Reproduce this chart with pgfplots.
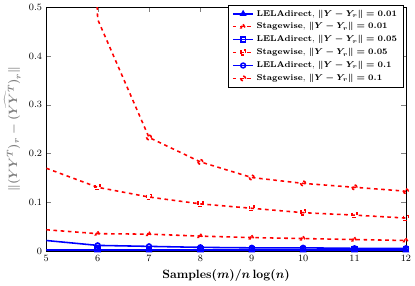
\documentclass[border=0pt]{standalone}
\usepackage{amsmath}
\usepackage{pgfplots}
\pgfplotsset{compat=1.18}
\begin{document}
\begin{tikzpicture}
\begin{axis}[
  scale only axis, width=299pt, height=203pt,
  xmin=5, xmax=12, ymin=0, ymax=0.5,
  xtick={5,6,7,8,9,10,11,12},
  ytick={0,0.1,0.2,0.3,0.4,0.5},
  tick align=inside,
  xticklabel style={font=\sffamily\bfseries\footnotesize},
  yticklabel style={font=\sffamily\bfseries\footnotesize},
  xlabel={\textbf{Samples}$\boldsymbol{(m)/n\log(n)}$},
  ylabel={\color{gray}$\boldsymbol{\Vert (YY^T)_r-\widehat{(YY^T)}_r\Vert}$},
  legend style={at={(0.993,1.01)}, anchor=north east, font=\scriptsize},
  legend cell align=left,
]
\addplot[color=blue, line width=1.3pt, mark=triangle*, mark phase=2] coordinates {(5,0.002) (6,0.002) (7,0.002) (8,0.002) (9,0.002) (10,0.002) (11,0.002) (12,0.002)};
\addlegendentry{\textbf{LELAdirect}, $\boldsymbol{\Vert Y-Y_r\Vert=0.01}$}
\addplot[color=red, line width=1.3pt, dashed, mark=triangle, mark phase=2] coordinates {(5,0.044) (6,0.036) (7,0.035) (8,0.031) (9,0.028) (10,0.026) (11,0.024) (12,0.022)};
\addlegendentry{\textbf{Stagewise}, $\boldsymbol{\Vert Y-Y_r\Vert=0.01}$}
\addplot[color=blue, line width=1.3pt, mark=square, mark phase=2] coordinates {(5,0.004) (6,0.004) (7,0.004) (8,0.004) (9,0.004) (10,0.004) (11,0.004) (12,0.004)};
\addlegendentry{\textbf{LELAdirect}, $\boldsymbol{\Vert Y-Y_r\Vert=0.05}$}
\addplot[color=red, line width=1.3pt, dashed, mark=square, mark phase=2] coordinates {(5,0.17) (6,0.131) (7,0.111) (8,0.097) (9,0.088) (10,0.079) (11,0.074) (12,0.068)};
\addlegendentry{\textbf{Stagewise}, $\boldsymbol{\Vert Y-Y_r\Vert=0.05}$}
\addplot[color=blue, line width=1.3pt, mark=o, mark phase=2] coordinates {(5,0.022) (6,0.012) (7,0.010) (8,0.008) (9,0.007) (10,0.007) (11,0.006) (12,0.006)};
\addlegendentry{\textbf{LELAdirect}, $\boldsymbol{\Vert Y-Y_r\Vert=0.1}$}
\addplot[color=red, line width=1.3pt, dashed, mark=o, mark phase=2] coordinates {(5,3.5) (6,0.475) (7,0.233) (8,0.183) (9,0.151) (10,0.139) (11,0.131) (12,0.123)};
\addlegendentry{\textbf{Stagewise}, $\boldsymbol{\Vert Y-Y_r\Vert=0.1}$}
\end{axis}
\end{tikzpicture}
\end{document}
